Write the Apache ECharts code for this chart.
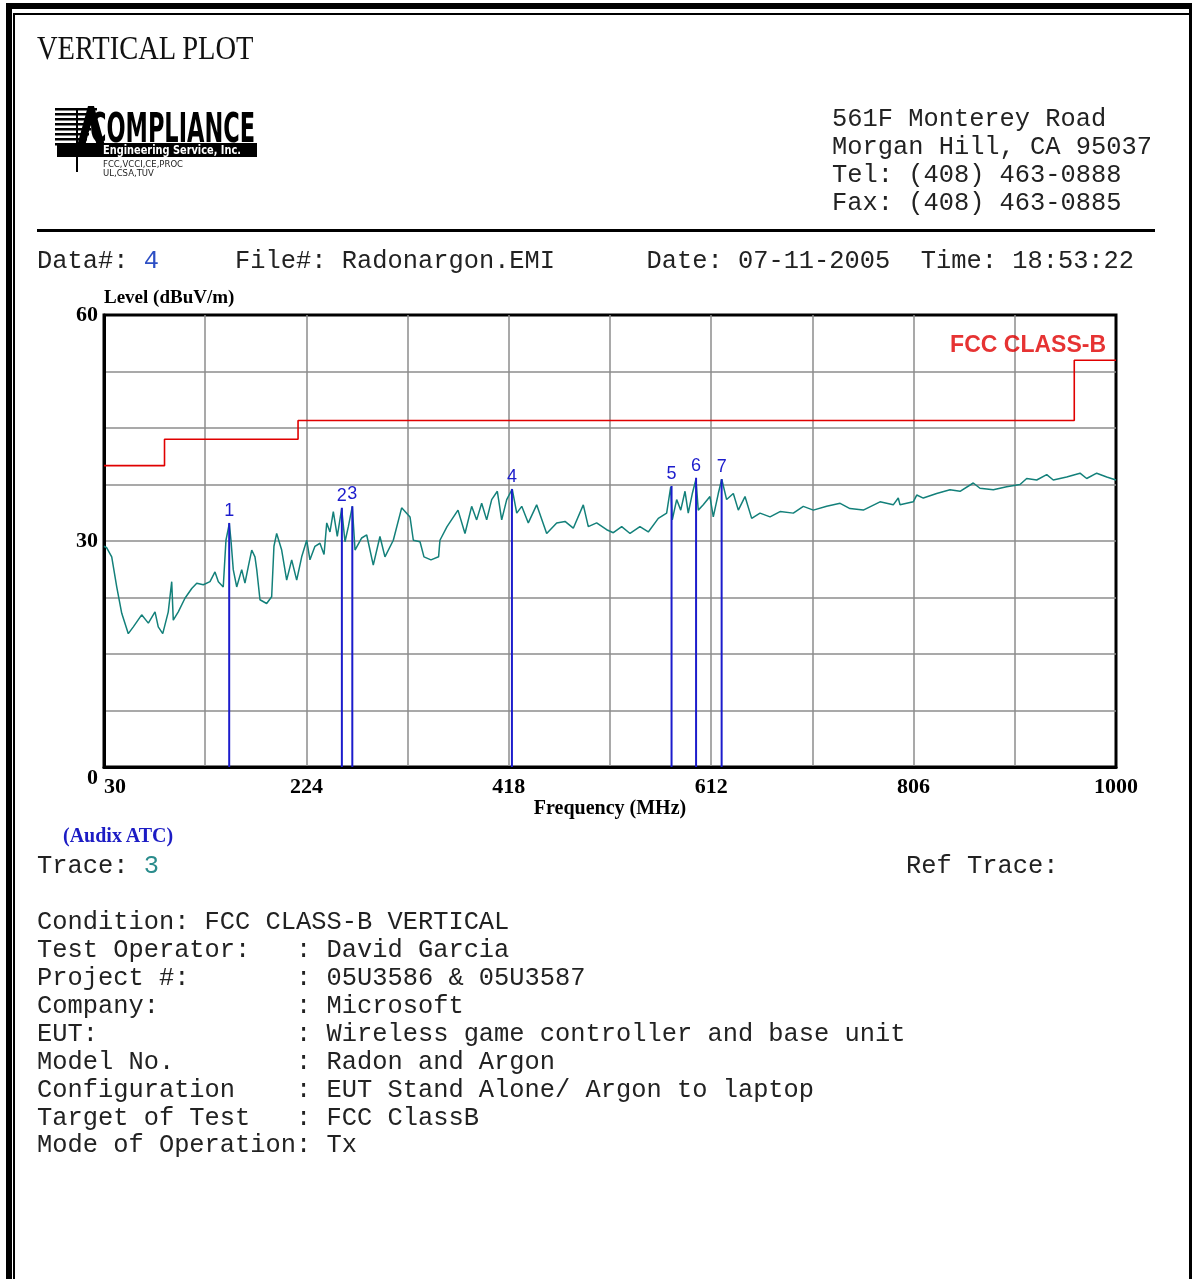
<!DOCTYPE html>
<html>
<head>
<meta charset="utf-8">
<script src="https://cdn.jsdelivr.net/npm/echarts@6/dist/echarts.min.js"></script>
<style>
  html, body { margin:0; padding:0; background:#fff; }
  #page { position:relative; width:1192px; height:1279px; overflow:hidden; background:#fff; }
  #chart { position:absolute; left:0; top:0; width:1192px; height:1279px; }
  .b { position:absolute; background:#000; }
  .t { position:absolute; white-space:pre; color:#222; z-index:5; }
  .mono { font-family:"Liberation Mono", "Courier New", monospace; font-size:25.4px; line-height:28px; }
  .serif { font-family:"Liberation Serif", "Times New Roman", serif; }
</style>
</head>
<body>
<div id="page">
  <div id="chart"></div>

  <!-- page frame -->
  <div class="b" style="left:6px;top:3px;width:1186px;height:6px"></div>
  <div class="b" style="left:6px;top:3px;width:6px;height:1276px"></div>
  <div class="b" style="left:13px;top:13px;width:1176px;height:2px"></div>
  <div class="b" style="left:13px;top:13px;width:2px;height:1266px"></div>
  <div class="b" style="left:1189px;top:9px;width:3px;height:1270px"></div>

  <div class="t serif" style="left:37px;top:30px;font-size:28.5px;line-height:32px;color:#111;transform:scaleY(1.15);transform-origin:left top;">VERTICAL PLOT</div>

  <!-- logo -->
  <svg class="t" style="left:50px;top:100px" width="230" height="90" viewBox="0 0 230 90">
    <g fill="#000">
      <rect x="5" y="8" width="42" height="2.5"/>
      <rect x="5" y="13" width="42" height="2.5"/>
      <rect x="5" y="18" width="40" height="2.5"/>
      <rect x="5" y="23" width="38" height="2.5"/>
      <rect x="5" y="28" width="36" height="2.5"/>
      <rect x="5" y="33" width="34" height="2.5"/>
      <rect x="5" y="38" width="32" height="2.5"/>
      <rect x="5" y="43" width="30" height="2.5"/>
      <polygon points="38,6 44,6 58,57 50,57 41,24 32,57 24,57"/>
      <rect x="26" y="8" width="2" height="64"/>
      <rect x="7" y="43" width="200" height="14"/>
    </g>
    <text x="40" y="42" font-family="DejaVu Sans" font-weight="bold" font-size="40" textLength="165" lengthAdjust="spacingAndGlyphs" fill="#000">COMPLIANCE</text>
    <text x="53" y="54" font-family="DejaVu Sans" font-weight="bold" font-size="11.5" textLength="138" lengthAdjust="spacingAndGlyphs" fill="#fff">Engineering Service, Inc.</text>
    <text x="53" y="67" font-family="DejaVu Sans" font-size="8.5" fill="#222">FCC,VCCI,CE,PROC</text>
    <text x="53" y="76" font-family="DejaVu Sans" font-size="8.5" fill="#222">UL,CSA,TUV</text>
  </svg>

  <div class="t mono" style="left:832px;top:106px">561F Monterey Road</div>
  <div class="t mono" style="left:832px;top:134px">Morgan Hill, CA 95037</div>
  <div class="t mono" style="left:832px;top:162px">Tel: (408) 463-0888</div>
  <div class="t mono" style="left:832px;top:190px">Fax: (408) 463-0885</div>
  <div class="b" style="left:37px;top:229px;width:1118px;height:3px"></div>

  <div class="t mono" style="left:37px;top:248px">Data#: <span style="color:#2d4fc4">4</span>     File#: Radonargon.EMI      Date: 07-11-2005  Time: 18:53:22</div>

  <div class="t serif" style="left:63px;top:823px;font-size:20px;line-height:24px;font-weight:bold;color:#1c1cc4">(Audix ATC)</div>
  <div class="t mono" style="left:37px;top:853px">Trace: <span style="color:#2a8c8c">3</span></div>
  <div class="t mono" style="left:906px;top:853px">Ref Trace:</div>

  <div class="t mono" style="left:37px;top:909px">Condition: FCC CLASS-B VERTICAL</div>
  <div class="t mono" style="left:37px;top:937px">Test Operator:   : David Garcia</div>
  <div class="t mono" style="left:37px;top:965px">Project #:       : 05U3586 &amp; 05U3587</div>
  <div class="t mono" style="left:37px;top:993px">Company:         : Microsoft</div>
  <div class="t mono" style="left:37px;top:1021px">EUT:             : Wireless game controller and base unit</div>
  <div class="t mono" style="left:37px;top:1049px">Model No.        : Radon and Argon</div>
  <div class="t mono" style="left:37px;top:1077px">Configuration    : EUT Stand Alone/ Argon to laptop</div>
  <div class="t mono" style="left:37px;top:1105px">Target of Test   : FCC ClassB</div>
  <div class="t mono" style="left:37px;top:1132px">Mode of Operation: Tx</div>
</div>

<script>
// ---- data ----
const xTickValues = [30, 127, 224, 321, 418, 515, 612, 709, 806, 903, 1000];
const xLabelValues = [30, 224, 418, 612, 806, 1000];
const yLabelValues = [0, 30, 60];

// FCC Class-B limit breakpoints (step 'end')
const limitFreq  = [30, 88, 216, 960, 1000];
const limitLevel = [40, 43.5, 46, 54, 54];

// measured trace (Audix ATC, trace 3)
const traceFreq = [
  30.0, 32.6, 37.4, 42.2, 47.0, 53.3, 58.1, 66.1, 72.5, 78.9, 82.0, 86.3, 91.6, 94.9, 96.4,
  101.2, 107.6, 114.1, 118.9, 125.2, 131.6, 136.4, 139.6, 144.3, 146.9, 150.1, 151.7, 153.9,
  157.2, 162.0, 165.1, 168.3, 171.6, 174.7, 176.4, 179.5, 185.9, 190.7, 192.9, 195.5, 200.3,
  205.1, 209.9, 214.7, 219.5, 224.3, 227.4, 232.2, 237.0, 240.9, 243.5, 246.6, 249.8, 253.6,
  257.8, 261.0, 264.2, 268.0, 270.6, 277.0, 281.8, 288.1, 294.5, 299.3, 307.3, 315.3, 323.3,
  326.5, 332.9, 336.7, 343.4, 350.7, 352.0, 358.8, 369.3, 376.0, 382.4, 387.2, 392.0, 396.8,
  401.6, 407.0, 411.2, 416.0, 421.3, 425.6, 430.4, 436.7, 444.7, 454.3, 463.9, 471.9, 479.8,
  489.4, 494.2, 502.2, 511.8, 518.2, 526.2, 534.2, 543.7, 551.7, 561.3, 569.3, 573.2, 574.7,
  578.9, 582.8, 586.9, 590.0, 593.9, 597.4, 599.6, 604.4, 610.8, 614.0, 618.8, 622.1, 626.8,
  633.2, 638.0, 644.4, 650.8, 658.8, 668.4, 678.0, 690.7, 700.3, 709.9, 722.7, 735.6, 745.0,
  757.8, 773.8, 786.5, 791.3, 793.0, 805.7, 809.0, 815.3, 828.1, 840.9, 850.5, 863.2, 869.6,
  882.4, 895.2, 908.0, 914.4, 924.0, 933.6, 939.9, 952.7, 965.5, 971.9, 981.5, 991.1, 1000
];
const traceLevel = [
  29.3, 29.1, 27.9, 23.9, 20.4, 17.7, 18.6, 20.2, 19.1, 20.6, 18.6, 17.7, 20.6, 24.6, 19.5,
  20.6, 22.4, 23.7, 24.4, 24.2, 24.6, 25.9, 24.6, 23.9, 30.1, 32.3, 30.1, 26.2,
  23.9, 26.2, 24.4, 26.6, 28.8, 27.9, 26.2, 22.2, 21.7, 22.6, 29.3, 31.0, 28.8,
  24.8, 27.5, 24.8, 27.9, 30.1, 27.5, 29.3, 29.7, 28.2, 32.4, 31.2, 33.9, 30.6,
  34.3, 29.9, 31.9, 34.6, 28.8, 30.4, 30.8, 26.8, 30.6, 27.9, 30.1, 34.4, 33.2,
  30.1, 29.9, 27.9, 27.5, 27.9, 30.1, 31.9, 34.1, 31.0, 34.6, 32.8, 35.0, 32.8,
  35.5, 36.6, 32.8, 35.5, 36.9, 33.7, 34.6, 32.4, 34.8, 31.0, 32.4, 32.6, 31.7,
  34.8, 31.9, 32.4, 31.5, 31.1, 31.9, 31.0, 31.9, 31.2, 33.0, 33.7, 37.2, 32.8,
  35.5, 34.1, 36.6, 33.7, 36.3, 38.2, 34.1, 34.8, 35.9, 33.2, 36.3, 38.2, 35.5,
  36.3, 34.1, 35.9, 33.0, 33.7, 33.2, 33.9, 33.7, 34.6, 34.1, 34.6, 35.0, 34.3,
  34.1, 35.2, 34.8, 35.7, 34.8, 35.2, 36.1, 35.7, 36.3, 36.8, 36.6, 37.7, 37.0,
  36.8, 37.2, 37.5, 38.3, 38.1, 38.8, 38.1, 38.5, 39.0, 38.3, 39.0, 38.5, 38.1
];

// peak markers
const markerIds   = ['1', '2', '3', '4', '5', '6', '7'];
const markerFreq  = [150, 258, 268, 421, 574, 597.5, 622];
const markerLevel = [32.4, 34.4, 34.6, 36.9, 37.3, 38.4, 38.2];

const limitName = 'FCC CLASS-B';

// ---- chart ----
const chart = echarts.init(document.getElementById('chart'), null, { renderer: 'canvas' });
const serif = '"Liberation Serif", "Times New Roman", serif';
const gridColor = '#8c8c8c';
const zip = (a, b) => a.map((v, i) => [v, b[i]]);

chart.setOption({
  animation: false,
  backgroundColor: 'transparent',
  grid: { left: 104, top: 315, width: 1012, height: 452, show: true, borderColor: '#000', borderWidth: 3, backgroundColor: 'transparent', containLabel: false },
  xAxis: {
    type: 'value', min: 30, max: 1000,
    axisLine: { show: true, onZero: false, lineStyle: { color: '#000', width: 3 } },
    axisTick: { show: false, customValues: xTickValues },
    axisLabel: { customValues: xLabelValues, formatter: v => String(v), fontFamily: serif, fontWeight: 'bold', fontSize: 22, color: '#000', margin: 9, alignMinLabel: 'left' },
    splitLine: { show: true, showMinLine: false, showMaxLine: false, lineStyle: { color: gridColor, width: 1.5 } },
    name: 'Frequency (MHz)', nameLocation: 'middle', nameGap: 32,
    nameTextStyle: { fontFamily: serif, fontWeight: 'bold', fontSize: 20, color: '#000' }
  },
  yAxis: {
    type: 'value', min: 0, max: 60, interval: 7.5,
    axisLine: { show: true, lineStyle: { color: '#000', width: 3 } },
    axisTick: { show: false },
    axisLabel: {
      formatter: v => (yLabelValues.indexOf(v) >= 0 ? String(v) : ''),
      fontFamily: serif, fontWeight: 'bold', fontSize: 22, color: '#000', margin: 6,
      verticalAlignMinLabel: 'top'
    },
    splitLine: { show: true, showMinLine: false, showMaxLine: false, lineStyle: { color: gridColor, width: 1.5 } },
    name: 'Level (dBuV/m)', nameLocation: 'end', nameGap: 7,
    nameTextStyle: { fontFamily: serif, fontWeight: 'bold', fontSize: 19, color: '#000', align: 'left', verticalAlign: 'bottom' }
  },
  series: [
    {
      type: 'line', data: zip(limitFreq, limitLevel), step: 'end', showSymbol: false,
      lineStyle: { color: '#e00000', width: 1.6 }, z: 3, silent: true
    },
    {
      type: 'scatter', data: [[limitFreq[limitFreq.length - 1], limitLevel[limitLevel.length - 1]]],
      symbolSize: 1, itemStyle: { color: 'rgba(0,0,0,0)' }, z: 6, silent: true,
      label: { show: true, position: 'top', align: 'right', distance: 3, offset: [-10, 0],
        formatter: limitName, fontFamily: '"Liberation Sans", Arial, sans-serif', fontWeight: 'bold', fontSize: 23, color: '#e00000' }
    },
    {
      type: 'line', data: zip(traceFreq, traceLevel), showSymbol: false,
      lineStyle: { color: '#13807a', width: 1.5 }, z: 2, silent: true
    },
    {
      type: 'bar', data: zip(markerFreq, markerLevel), barWidth: 2,
      itemStyle: { color: '#1c1ccc' }, z: 4, silent: true,
      label: { show: true, position: 'top', distance: 3,
        formatter: p => markerIds[p.dataIndex],
        fontFamily: '"Liberation Sans", Arial, sans-serif', fontSize: 18, color: '#1c1ccc' }
    }
  ]
});
</script>
</body>
</html>
